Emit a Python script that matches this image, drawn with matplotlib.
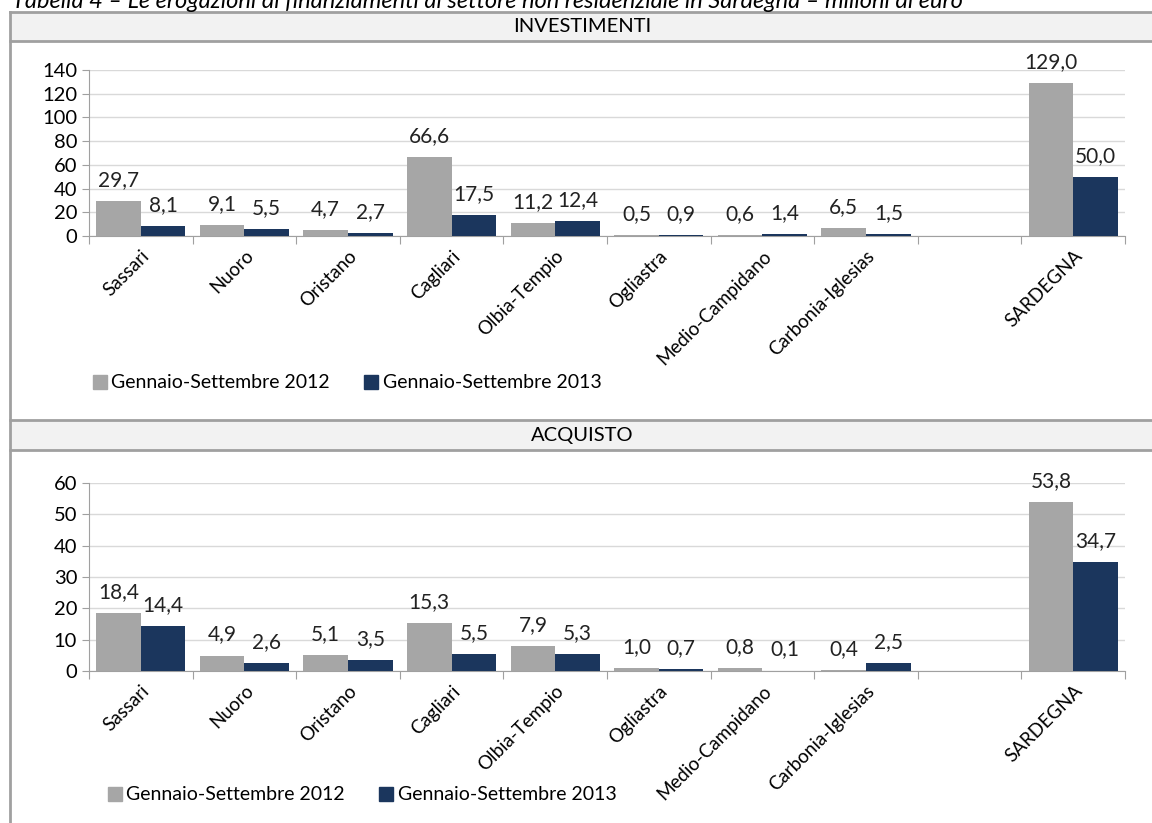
#----Erogazioni di finanziamenti al settore non residenziale----
import matplotlib.pyplot as plt
from matplotlib.lines import Line2D
from matplotlib.patches import Rectangle
import numpy as np

#----Dati----
province = ["Sassari", "Nuoro", "Oristano", "Cagliari", "Olbia-Tempio", "Ogliastra",
            "Medio-Campidano", "Carbonia-Iglesias", "", "SARDEGNA"]
inv_2012 = [29.7, 9.1, 4.7, 66.6, 11.2, 0.5, 0.6, 6.5, None, 129.0]
inv_2013 = [8.1, 5.5, 2.7, 17.5, 12.4, 0.9, 1.4, 1.5, None, 50.0]
acq_2012 = [18.4, 4.9, 5.1, 15.3, 7.9, 1.0, 0.8, 0.4, None, 53.8]
acq_2013 = [14.4, 2.6, 3.5, 5.5, 5.3, 0.7, 0.1, 2.5, None, 34.7]
serie = ["Gennaio-Settembre 2012", "Gennaio-Settembre 2013"]
titolo = "Tabella 4 – Le erogazioni di finanziamenti al settore non residenziale in Sardegna – milioni di euro"

col12 = "#a6a6a6"
col13 = "#1b365d"
grigio = "#a0a0a0"

plt.rcParams['font.family'] = ['Lato', 'DejaVu Sans']
plt.rcParams['font.size'] = 13.5

W, H = 1152, 823
fig = plt.figure(figsize=(W/100, H/100), dpi=100)


def px(x, y):  # pixel -> frazione figura
    return x/W, 1 - y/H


def pannello(top, bottom, v12, v13, ymax, passo, leg_y, leg_x):
    x0, y0 = px(89, bottom)
    x1, y1 = px(1125, top)
    ax = fig.add_axes([x0, y0, x1-x0, y1-y0])
    n = len(province)
    x = np.arange(n)
    w = 0.43
    a12 = np.array([np.nan if v is None else v for v in v12])
    a13 = np.array([np.nan if v is None else v for v in v13])
    b1 = ax.bar(x - w/2, np.nan_to_num(a12), w, color=col12, zorder=3)
    b2 = ax.bar(x + w/2, np.nan_to_num(a13), w, color=col13, zorder=3)
    for bars, vals in ((b1, v12), (b2, v13)):
        for b, v in zip(bars, vals):
            if v is None:
                continue
            ax.annotate(f"{v:.1f}".replace(".", ","), (b.get_x() + b.get_width()/2, v),
                        xytext=(0, 8), textcoords="offset points", ha="center", va="bottom",
                        color="#222222", fontsize=15)
    ax.set_xlim(-0.5, n - 0.5)
    ax.set_ylim(0, ymax)
    ax.set_yticks(np.arange(0, ymax + 1, passo))
    ax.grid(axis="y", color="#d9d9d9", linewidth=1, zorder=0)
    ax.set_xticks(np.arange(n + 1) - 0.5)
    ax.set_xticklabels([])
    ax.set_xticks(x, minor=True)
    ax.set_xticklabels(province, minor=True, rotation=45, ha="right", rotation_mode="anchor")
    ax.tick_params(axis="x", which="major", length=6, color=grigio)
    ax.tick_params(axis="x", which="minor", length=0, pad=8)
    ax.tick_params(axis="y", length=5, color=grigio, labelsize=14.5)
    for s in ("top", "right"):
        ax.spines[s].set_visible(False)
    for s in ("left", "bottom"):
        ax.spines[s].set_color(grigio)
    # legenda
    lx, ly = px(leg_x, leg_y)
    handles = [Line2D([], [], marker="s", linestyle="", markersize=10, color=col12),
               Line2D([], [], marker="s", linestyle="", markersize=10, color=col13)]
    fig.legend(handles, serie, loc="center left", bbox_to_anchor=(lx, ly), ncol=2,
               frameon=False, fontsize=14, handletextpad=0.1, columnspacing=1.6,
               borderaxespad=0, borderpad=0, handlelength=1)
    return ax


def intestazione(y_top, y_bot, testo):
    x0, yb = px(10, y_bot)
    _, yt = px(10, y_top)
    fig.patches.append(Rectangle((x0, yb), 1.2, yt - yb, transform=fig.transFigure,
                                 facecolor="#f2f2f2", edgecolor="none", zorder=0))
    for yy in (yt, yb):
        fig.add_artist(Line2D([x0, 1.0], [yy, yy], color=grigio, linewidth=2))
    fig.text(px(582, 0)[0], (yt + yb)/2, testo, ha="center", va="center", fontsize=14.5)


intestazione(12, 41, "INVESTIMENTI")
intestazione(420, 450, "ACQUISTO")
fig.add_artist(Line2D([10/W, 10/W], [0, 1 - 12/H], color=grigio, linewidth=2))

pannello(70, 236, inv_2012, inv_2013, 140, 20, 383, 90)
pannello(483, 671, acq_2012, acq_2013, 60, 10, 795, 105)

fig.text(12/W, 1 - 1/H, titolo, style="italic", ha="left", va="center", fontsize=17)

plt.savefig("out.png", dpi=100)
